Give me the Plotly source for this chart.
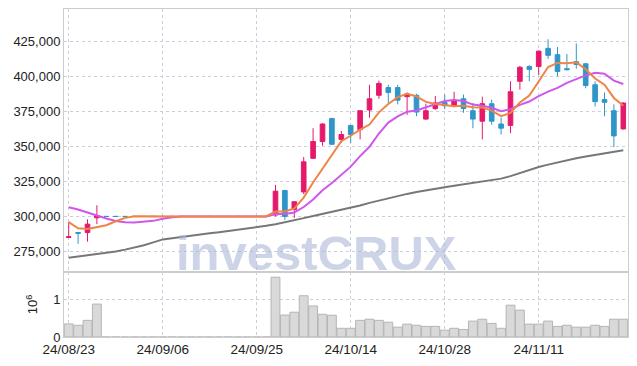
import plotly.graph_objects as go

dates = ["2024-08-23","2024-08-26","2024-08-27","2024-08-28","2024-08-29","2024-08-30",
         "2024-09-02","2024-09-03","2024-09-04","2024-09-05","2024-09-06","2024-09-09",
         "2024-09-10","2024-09-11","2024-09-12","2024-09-13","2024-09-19","2024-09-20",
         "2024-09-23","2024-09-24","2024-09-25","2024-09-26","2024-09-27","2024-09-30",
         "2024-10-02","2024-10-04","2024-10-07","2024-10-08","2024-10-10","2024-10-11",
         "2024-10-14","2024-10-15","2024-10-16","2024-10-17","2024-10-18","2024-10-21",
         "2024-10-22","2024-10-23","2024-10-24","2024-10-25","2024-10-28","2024-10-29",
         "2024-10-30","2024-10-31","2024-11-01","2024-11-04","2024-11-05","2024-11-06",
         "2024-11-07","2024-11-08","2024-11-11","2024-11-12","2024-11-13","2024-11-14",
         "2024-11-15","2024-11-18","2024-11-19","2024-11-20","2024-11-21","2024-11-22"]

open_ = [285000, 288500, 288500, 299000] + [300000]*18 + [
    301000, 318500, 305000, 317500, 341500, 353500, 370000, 355000, 365000, 362000,
    376000, 386500, 392000, 392000, 385500, 386500, 369500, 377000, 381500, 379000,
    384000, 375500, 368000, 380500, 366000, 365000, 396500, 407000, 407000, 420000,
    415500, 405500, 410500, 409000, 394000, 383500, 375500, 362500]
high = [296000, 288800, 298000, 308000] + [300000]*18 + [
    322500, 319000, 311000, 342500, 363000, 366500, 370000, 361000, 365000, 376000,
    394000, 397000, 394000, 394000, 388500, 387500, 380500, 386000, 387000, 389000,
    387000, 381000, 385500, 383500, 370500, 396500, 407500, 408000, 418500, 426500,
    421000, 416000, 423500, 409500, 396500, 388500, 380000, 381500]
low = [284500, 280500, 282000, 294500] + [300000]*18 + [
    300000, 297500, 299000, 316000, 341000, 350500, 351000, 352500, 352500, 355000,
    370500, 384000, 381000, 380000, 372500, 371500, 369000, 376000, 376500, 378000,
    374000, 363000, 355000, 365500, 358500, 359500, 390500, 396500, 401000, 412500,
    400000, 404300, 405500, 391500, 378500, 371500, 349500, 362000]
close = [285500, 288000, 294500, 300500] + [300000]*18 + [
    318000, 300000, 310500, 339000, 353500, 366000, 351500, 358500, 358500, 375500,
    384000, 395000, 388500, 383000, 387500, 374500, 375500, 381000, 379000, 383000,
    377000, 369500, 380500, 368000, 363000, 389000, 406500, 405000, 418000, 415000,
    403500, 404800, 408500, 393500, 382000, 381500, 357500, 381000]

# volume in millions of shares
volume = [0.345, 0.31, 0.44, 0.87] + [0]*18 + [
    1.58, 0.58, 0.655, 1.09, 0.82, 0.60, 0.575, 0.23, 0.23, 0.44,
    0.47, 0.44, 0.39, 0.26, 0.34, 0.31, 0.28, 0.28, 0.18, 0.23,
    0.20, 0.42, 0.47, 0.36, 0.23, 0.84, 0.71, 0.34, 0.34, 0.42,
    0.28, 0.31, 0.26, 0.26, 0.31, 0.28, 0.47, 0.47]

ma5 = [296000, 291500, 291000, 292500, 293700, 296600, 299000, 300100] + [300000]*14 + [
    303600, 303600, 305700, 313500, 324200, 333800, 344100, 353700, 357600, 362000,
    365600, 374300, 380300, 385200, 387600, 385700, 381800, 380300, 379500, 378600,
    379100, 377900, 377800, 375600, 371600, 374000, 381400, 386300, 396300, 406700,
    409600, 409300, 410000, 405100, 398500, 394100, 384600, 379100]
ma10 = [306500, 305000, 302800, 300600, 298500, 296800, 295800, 295700, 296200, 296850,
        298300, 299500, 300050] + [300000]*9 + [
    301800, 301800, 302850, 306750, 312100, 318700, 323850, 329700, 335550, 343100,
    349700, 359200, 367000, 371400, 374800, 375650, 378050, 380300, 382350, 383100,
    382400, 379850, 379050, 377550, 375100, 376550, 379650, 382050, 385950, 389150,
    391800, 395330, 398130, 400680, 402580, 401830, 396930, 394530]
ma_long = [270500, 271300, 272100, 272900, 273800, 275000, 276300, 277800, 279500, 281500,
           283600, 284500, 285500, 286400, 287300, 288000, 288800, 289600, 290500, 291300,
           292200, 293300, 294500, 295800, 297300, 298800, 300300, 301800, 303200, 304600,
           306000, 307800, 309700, 311400, 313000, 314600, 316100, 317500, 318800, 319900,
           320900, 321900, 323000, 324000, 325000, 325900, 327000, 328800, 331000, 333300,
           335300, 337000, 338700, 340200, 341600, 342800, 344000, 345100, 346200, 347300]

tick_dates = ["2024-08-23", "2024-09-06", "2024-09-25", "2024-10-14", "2024-10-28", "2024-11-11"]
tick_text = ["24/08/23", "24/09/06", "24/09/25", "24/10/14", "24/10/28", "24/11/11"]
price_ticks = [275000, 300000, 325000, 350000, 375000, 400000, 425000]
watermark = "investCRUX"

RED = "#e5196b"
BLUE = "#2f96c9"
FONT = "Liberation Sans, Arial, sans-serif"
GRID = "#cdcde0"
FRAME = "#cccccc"

fig = go.Figure()
fig.add_trace(go.Bar(x=dates, y=volume, yaxis="y2", marker=dict(color="#d9d9d9",
                     line=dict(color="#b5b5b5", width=1)), showlegend=False))
fig.add_trace(go.Candlestick(x=dates, open=open_, high=high, low=low, close=close,
                             increasing=dict(line=dict(color=RED, width=1), fillcolor=RED),
                             decreasing=dict(line=dict(color=BLUE, width=1), fillcolor=BLUE),
                             showlegend=False))
fig.add_trace(go.Scatter(x=dates, y=ma_long, mode="lines", line=dict(color="#777777", width=2),
                         showlegend=False))
fig.add_trace(go.Scatter(x=dates, y=ma10, mode="lines", line=dict(color="#cf57ea", width=2),
                         showlegend=False))
fig.add_trace(go.Scatter(x=dates, y=ma5, mode="lines", line=dict(color="#ef8447", width=2),
                         showlegend=False))

fig.update_layout(
    width=637, height=366,
    margin=dict(l=64, r=9, t=9, b=29),
    paper_bgcolor="white", plot_bgcolor="white",
    font=dict(family=FONT, size=13, color="#222222"),
    bargap=0.06,
    xaxis=dict(type="category", anchor="y2", range=[-0.5, 59.5], rangeslider=dict(visible=False),
               tickmode="array", tickvals=tick_dates, ticktext=tick_text, automargin=False,
               showgrid=True, gridcolor=GRID, griddash="dot", gridwidth=1,
               showline=True, linecolor=FRAME, linewidth=1, mirror="all",
               ticks="", tickfont=dict(size=13.5)),
    yaxis=dict(domain=[0.198, 1], range=[260300, 448100], tickvals=price_ticks, automargin=False,
               tickformat=",d", showgrid=True, gridcolor=GRID, griddash="dot",
               showline=True, linecolor=FRAME, linewidth=1, mirror=True,
               zeroline=False, ticks=""),
    yaxis2=dict(domain=[0, 0.198], range=[0, 1.716], tickvals=[0, 1], automargin=False,
                showgrid=True, gridcolor=GRID, griddash="dot",
                showline=True, linecolor=FRAME, linewidth=1, mirror=True,
                zeroline=False, ticks="",
                title=dict(text="10<sup>6</sup>", font=dict(size=13), standoff=12)),
    annotations=[
        dict(text="<b>" + watermark + "</b>", xref="paper", yref="paper", x=0.448, y=0.167,
             showarrow=False, font=dict(family="Liberation Sans, Arial, sans-serif", size=49,
                                          color="rgba(172,183,217,0.6)")),
    ],
)

fig.write_html("out.html", config={"displayModeBar": False},
               post_script="document.body.style.margin='0';")
